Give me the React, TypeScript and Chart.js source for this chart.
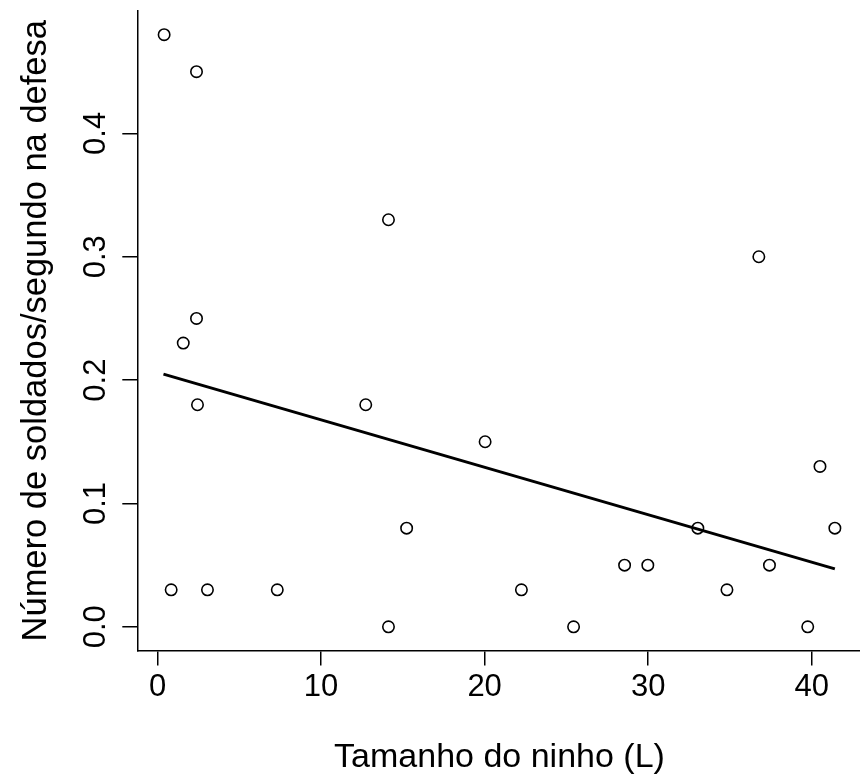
import React, { useEffect, useRef } from "react";
import { Chart, registerables } from "chart.js";

Chart.register(...registerables);

// Data
const nestSize = [
  0.4, 2.38, 14.12, 36.77, 2.38, 1.57, 2.44, 12.73, 20.03, 40.51, 15.23, 33.04,
  41.42, 28.56, 29.98, 37.42, 0.83, 3.05, 7.32, 22.25, 34.82, 14.12, 25.44, 39.76,
];
const soldiersPerSecond = [
  0.48, 0.45, 0.33, 0.3, 0.25, 0.23, 0.18, 0.18, 0.15, 0.13, 0.08, 0.08,
  0.08, 0.05, 0.05, 0.05, 0.03, 0.03, 0.03, 0.03, 0.03, 0.0, 0.0, 0.0,
];
const fitLineX = [0.36, 41.42];
const fitLineY = [0.2048, 0.047];
const xTicks = [0, 10, 20, 30, 40];
const yTicks = [0, 0.1, 0.2, 0.3, 0.4];
const xTitle = "Tamanho do ninho (L)";
const yTitle = "Número de soldados/segundo na defesa";

const FONT = "'Liberation Sans', Arial, Helvetica, sans-serif";

// R's default axis extension (4% on each side)
function rRange(arr: number[]): [number, number] {
  const lo = Math.min(...arr);
  const hi = Math.max(...arr);
  const r = hi - lo;
  return [lo - 0.04 * r, hi + 0.04 * r];
}

function zeroPad(s: any) {
  s.paddingTop = 0;
  s.paddingBottom = 0;
  s.paddingLeft = 0;
  s.paddingRight = 0;
}

export default function App() {
  const ref = useRef<HTMLCanvasElement | null>(null);

  useEffect(() => {
    if (!ref.current) return;
    const [xMin, xMax] = rRange(nestSize);
    const [yMin, yMax] = rRange(soldiersPerSecond);
    const points = nestSize.map((x, i) => ({ x, y: soldiersPerSecond[i] }));
    const fit = fitLineX.map((x, i) => ({ x, y: fitLineY[i] }));

    const chart = new Chart(ref.current, {
      type: "scatter",
      data: {
        datasets: [
          {
            data: fit,
            showLine: true,
            pointRadius: 0,
            borderColor: "#000",
            borderWidth: 3,
            order: 0,
          },
          {
            data: points,
            pointStyle: "circle",
            pointRadius: 5.7,
            pointBorderWidth: 1.6,
            borderColor: "#000",
            backgroundColor: "rgba(0,0,0,0)",
            pointBackgroundColor: "rgba(0,0,0,0)",
            pointBorderColor: "#000",
            order: 1,
          },
        ],
      },
      options: {
        responsive: false,
        animation: false,
        layout: { padding: { left: 0, top: 11, right: 0, bottom: 0 } },
        plugins: {
          legend: { display: false },
          tooltip: { enabled: false },
        },
        scales: {
          x: {
            type: "linear",
            min: xMin,
            max: xMax,
            afterBuildTicks: (s: any) => {
              s.ticks = xTicks.map((v) => ({ value: v }));
            },
            afterFit: (s: any) => {
              s.height = 124.5;
              zeroPad(s);
            },
            grid: {
              display: true,
              drawOnChartArea: false,
              drawTicks: true,
              tickLength: 15,
              color: "#000",
              lineWidth: 1.5,
            },
            border: { display: true, color: "#000", width: 1.5 },
            ticks: {
              color: "#000",
              font: { family: FONT, size: 31 },
              padding: 3,
              maxRotation: 0,
              minRotation: 0,
              callback: (v: any) => String(v),
            },
            title: {
              display: true,
              text: xTitle,
              color: "#000",
              font: { family: FONT, size: 34, lineHeight: 1 },
              padding: { top: 0, bottom: 0 },
            },
          },
          y: {
            type: "linear",
            min: yMin,
            max: yMax,
            afterBuildTicks: (s: any) => {
              s.ticks = yTicks.map((v) => ({ value: v }));
            },
            afterFit: (s: any) => {
              s.width = 137.3;
              zeroPad(s);
            },
            grid: {
              display: true,
              drawOnChartArea: false,
              drawTicks: true,
              tickLength: 15,
              color: "#000",
              lineWidth: 1.5,
            },
            border: { display: true, color: "#000", width: 1.5 },
            ticks: {
              color: "#000",
              font: { family: FONT, size: 31 },
              padding: 4,
              minRotation: 90,
              maxRotation: 90,
              crossAlign: "center",
              callback: (v: any) => Number(v).toFixed(1),
            },
            title: {
              display: true,
              text: yTitle,
              color: "#000",
              font: { family: FONT, size: 34.5, lineHeight: 1 },
              padding: { top: 19, bottom: 0 },
            },
          },
        },
      },
    } as any);

    return () => chart.destroy();
  }, []);

  return (
    <div
      style={{
        position: "absolute",
        left: 0,
        top: 0,
        width: 860,
        height: 775,
        overflow: "hidden",
        background: "#fff",
      }}
    >
      <div style={{ width: 869, height: 775 }}>
        <canvas
          ref={ref}
          width={869}
          height={775}
          style={{ display: "block", width: 869, height: 775 }}
        />
      </div>
    </div>
  );
}
